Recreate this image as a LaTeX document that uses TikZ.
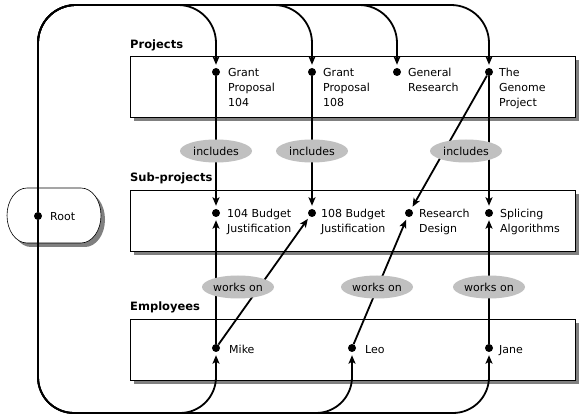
\documentclass[tikz,border=0pt]{standalone}
\usepackage{fontspec}
\setmainfont{DejaVu Sans}
\usetikzlibrary{arrows.meta,shapes.geometric,shadows}
\definecolor{shgray}{RGB}{128,128,128}
\definecolor{elgray}{RGB}{192,192,192}
\begin{document}
\begin{tikzpicture}[x=1pt,y=-1pt,
  panel/.style={draw=black, line width=0.9pt, fill=white, minimum width=445pt, minimum height=61pt, inner sep=0pt,
    drop shadow={shadow xshift=4pt, shadow yshift=-4pt, fill=shgray, opacity=1}},
  rootshape/.style={draw=black, line width=0.6pt, fill=white},
  dot/.style={circle, fill=black, inner sep=0pt, minimum size=8pt},
  conn/.style={line width=1.8pt, -{Stealth[length=8.5pt,width=7pt,inset=2pt]}, shorten >=3pt},
  lbl/.style={ellipse, fill=elgray, inner sep=0pt, minimum width=72pt, minimum height=23pt, font=\fontsize{11}{13}\selectfont},
  item/.style={anchor=base west, align=left, inner sep=0pt, font=\fontsize{11}{15}\selectfont},
  head/.style={anchor=base west, inner sep=0pt, font=\bfseries\fontsize{11.5}{13}\selectfont}
]
\fill[white] (0,0) rectangle (586,419);
\useasboundingbox (0,0) rectangle (586,419);
% panels
\node[panel] (projbox) at (352.5,86.5) {};
\node[panel] (subbox) at (352.5,220.5) {};
\node[panel] (empbox) at (352.5,349.5) {};
% root shape with shadow
\fill[shgray] (31,192) -- (85,192) arc[start angle=-90, end angle=90, x radius=20, y radius=27.5]
  -- (31,247) arc[start angle=90, end angle=270, x radius=20, y radius=27.5] -- cycle;
\draw[rootshape] (27,188) -- (81,188) arc[start angle=-90, end angle=90, x radius=20, y radius=27.5]
  -- (27,243) arc[start angle=90, end angle=270, x radius=20, y radius=27.5] -- cycle;
% headings
\node[head] (hproj) at (130,49) {Projects};
\node[head] (hsub) at (130,182) {Sub-projects};
\node[head] (hemp) at (130,311) {Employees};
% dots
\node[dot] (r) at (38,216) {};
\node[dot] (p1) at (216,72) {};
\node[dot] (p2) at (312,72) {};
\node[dot] (p3) at (397,72) {};
\node[dot] (p4) at (489,72) {};
\node[dot] (s1) at (216,213) {};
\node[dot] (s2) at (312,213) {};
\node[dot] (s3) at (409,213) {};
\node[dot] (s4) at (489,213) {};
\node[dot] (e1) at (216,348) {};
\node[dot] (e2) at (352,348) {};
\node[dot] (e3) at (489,348) {};
% texts (base anchor = baseline of last line)
\node[item] (tr) at (50,221) {Root};
\node[item] (tp1) at (228,107) {Grant\\Proposal\\104};
\node[item] (tp2) at (323,107) {Grant\\Proposal\\108};
\node[item] (tp3) at (408,92) {General\\Research};
\node[item] (tp4) at (499,107) {The\\Genome\\Project};
\node[item] (ts1) at (227,233) {104 Budget\\Justification};
\node[item] (ts2) at (321,233) {108 Budget\\Justification};
\node[item] (ts3) at (419,233) {Research\\Design};
\node[item] (ts4) at (500,233) {Splicing\\Algorithms};
\node[item] (te1) at (229,353) {Mike};
\node[item] (te2) at (365,353) {Leo};
\node[item] (te3) at (499,353) {Jane};
% connectors from root
\draw[conn, rounded corners=38pt] (r) -- (38,5) -- (216,5) -- (p1);
\draw[conn, rounded corners=38pt] (r) -- (38,5) -- (312,5) -- (p2);
\draw[conn, rounded corners=38pt] (r) -- (38,5) -- (397,5) -- (p3);
\draw[conn, rounded corners=38pt] (r) -- (38,5) -- (489,5) -- (p4);
\draw[conn, rounded corners=36pt] (r) -- (38,413) -- (216,413) -- (e1);
\draw[conn, rounded corners=36pt] (r) -- (38,413) -- (352,413) -- (e2);
\draw[conn, rounded corners=36pt] (r) -- (38,413) -- (489,413) -- (e3);
% inner connectors
\draw[conn] (p1) -- (s1);
\draw[conn] (p2) -- (s2);
\draw[conn] (p4) -- (s3);
\draw[conn] (p4) -- (s4);
\draw[conn] (e1) -- (s1);
\draw[conn] (e1) -- (s2);
\draw[conn] (e2) -- (s3);
\draw[conn] (e3) -- (s4);
% labels
\node[lbl] (i1) at (216,151) {includes};
\node[lbl] (i2) at (312,151) {includes};
\node[lbl] (i3) at (466,151) {includes};
\node[lbl] (w1) at (238,287) {works on};
\node[lbl] (w2) at (377,287) {works on};
\node[lbl] (w3) at (489,287) {works on};
\end{tikzpicture}
\end{document}
